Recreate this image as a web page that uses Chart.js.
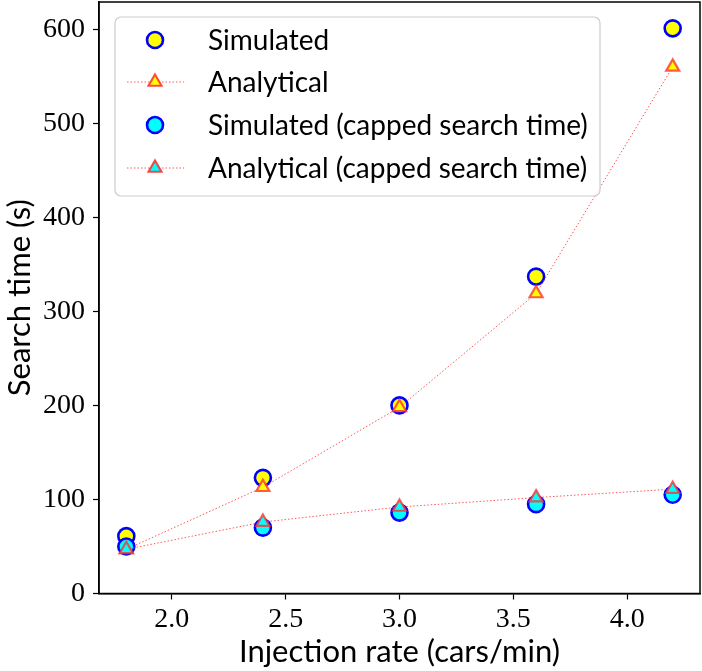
<!DOCTYPE html>
<html>
<head>
<meta charset="utf-8">
<script src="https://cdn.jsdelivr.net/npm/chart.js@4/dist/chart.umd.min.js"></script>
<style>
  html, body { margin: 0; padding: 0; background: #fff; }
  #wrap { width: 702px; height: 671px; position: relative; }
</style>
</head>
<body>
<div id="wrap"><canvas id="chart" width="702" height="671"></canvas></div>
<script>
// injection rates (cars/min)
const rates = [1.8, 2.4, 3.0, 3.6, 4.2];
// search times (s)
const simulated = [61, 123, 200, 337, 601];
const analytical = [47, 113, 198, 319, 560];
const simulatedCapped = [50, 70, 86, 95, 105];
const analyticalCapped = [47, 76, 92, 102, 111];
const xTicks = [2.0, 2.5, 3.0, 3.5, 4.0];
const yTicks = [0, 100, 200, 300, 400, 500, 600];
const legendLabels = ['Simulated', 'Analytical', 'Simulated (capped search time)', 'Analytical (capped search time)'];

const toPoints = (ys) => rates.map((x, i) => ({ x: x, y: ys[i] }));

const BLUE = '#0000ff';
const RED = 'rgba(255, 50, 50, 0.8)';
const LINE_RED = 'rgba(255, 60, 60, 0.85)';
const tickFont = { family: '"Liberation Serif", "DejaVu Serif", serif', size: 28 };
const titleFont = { family: 'Lato, "DejaVu Sans", sans-serif', size: 31 };
const legendFont = '28px Lato, "DejaVu Sans", sans-serif';

function circleDs(label, ys, fill, order) {
  return {
    label: label, data: toPoints(ys), showLine: false, order: order, clip: false,
    pointStyle: 'circle', pointRadius: 8, pointHoverRadius: 8,
    pointBackgroundColor: fill, pointBorderColor: BLUE, pointBorderWidth: 2.6
  };
}
function lineDs(label, ys, fill, order) {
  return {
    label: label, data: toPoints(ys), showLine: true, order: order, clip: false,
    borderColor: LINE_RED, borderWidth: 1, borderDash: [1.5, 2],
    pointStyle: 'triangle', pointRadius: 7.5, pointHoverRadius: 7.5,
    pointBackgroundColor: fill, pointBorderColor: RED, pointBorderWidth: 2.2
  };
}

// no extra room for half tick labels, the plot fills the canvas
function noPad(s) {
  s.paddingTop = 0; s.paddingBottom = 0; s.paddingLeft = 0; s.paddingRight = 0;
}

// frame on top and right, plus the legend box inside the plot
const framePlugin = {
  id: 'frame',
  afterDatasetsDraw(chart) {
    const { ctx, chartArea: a } = chart;
    ctx.save();
    ctx.strokeStyle = '#000';
    ctx.lineWidth = 1.5;
    ctx.strokeRect(a.left, a.top, a.right - a.left, a.bottom - a.top);
    ctx.restore();
  },
  afterDraw(chart) {
    const ctx = chart.ctx;
    const bx = 115, by = 17, bw = 485, bh = 179, r = 6;
    ctx.save();
    ctx.beginPath();
    ctx.roundRect(bx, by, bw, bh, r);
    ctx.fillStyle = 'rgba(255,255,255,0.8)';
    ctx.fill();
    ctx.strokeStyle = '#cccccc';
    ctx.lineWidth = 1.2;
    ctx.stroke();

    const rows = [40, 82, 125, 168];
    const mx = 155;
    const fills = ['#ffff00', '#ffff00', '#00ffff', '#00ffff'];
    rows.forEach((y, i) => {
      const isLine = (i % 2 === 1);
      if (isLine) {
        ctx.beginPath();
        ctx.setLineDash([1.5, 2]);
        ctx.strokeStyle = LINE_RED;
        ctx.lineWidth = 1;
        ctx.moveTo(127, y);
        ctx.lineTo(184, y);
        ctx.stroke();
        ctx.setLineDash([]);
        Chart.helpers.drawPoint(ctx, { pointStyle: 'triangle', radius: 7.5, rotation: 0, borderWidth: 2.2 }, mx, y);
        ctx.fillStyle = fills[i];
        ctx.strokeStyle = RED;
        ctx.lineWidth = 2.2;
        ctx.fill();
        ctx.stroke();
      } else {
        ctx.beginPath();
        ctx.arc(mx, y, 8, 0, Math.PI * 2);
        ctx.fillStyle = fills[i];
        ctx.fill();
        ctx.strokeStyle = BLUE;
        ctx.lineWidth = 2.6;
        ctx.stroke();
      }
      ctx.fillStyle = '#000';
      ctx.font = legendFont;
      ctx.textBaseline = 'middle';
      ctx.textAlign = 'left';
      ctx.fillText(legendLabels[i], 208, y + 1);
    });
    ctx.restore();
  }
};

new Chart(document.getElementById('chart'), {
  type: 'scatter',
  data: {
    datasets: [
      circleDs(legendLabels[0], simulated, '#ffff00', 4),
      lineDs(legendLabels[1], analytical, '#ffff00', 3),
      circleDs(legendLabels[2], simulatedCapped, '#00ffff', 2),
      lineDs(legendLabels[3], analyticalCapped, '#00ffff', 1)
    ]
  },
  options: {
    responsive: false,
    animation: false,
    layout: { autoPadding: false, padding: { top: 2, right: 2, left: 0, bottom: 0 } },
    plugins: { legend: { display: false }, tooltip: { enabled: false } },
    scales: {
      x: {
        type: 'linear', min: 1.68, max: 4.32,
        afterBuildTicks: (s) => { s.ticks = xTicks.map(v => ({ value: v })); },
        afterFit: (s) => { s.height = 77.5; noPad(s); },
        border: { color: '#000', width: 1.5 },
        grid: { drawOnChartArea: false, drawTicks: true, tickLength: 6, color: '#000', tickWidth: 1.2 },
        ticks: { color: '#000', font: tickFont, padding: 3, maxRotation: 0, callback: (v) => v.toFixed(1) },
        title: { display: true, text: 'Injection rate (cars/min)', color: '#000', font: titleFont, padding: { top: 0, bottom: 0 } }
      },
      y: {
        type: 'linear', min: 0, max: 629,
        afterBuildTicks: (s) => { s.ticks = yTicks.map(v => ({ value: v })); },
        afterFit: (s) => { s.width = 99; noPad(s); },
        border: { color: '#000', width: 1.5 },
        grid: { drawOnChartArea: false, drawTicks: true, tickLength: 6, color: '#000', tickWidth: 1.2 },
        ticks: { color: '#000', font: tickFont, padding: 8, callback: (v) => String(v) },
        title: { display: true, text: 'Search time (s)', color: '#000', font: titleFont, padding: { top: 1, bottom: 0 } }
      }
    }
  },
  plugins: [framePlugin]
});
</script>
</body>
</html>
